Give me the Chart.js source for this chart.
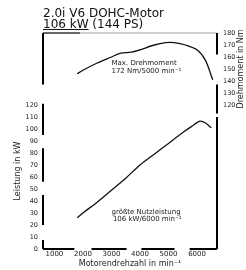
<!DOCTYPE html>
<html>
<head>
<meta charset="utf-8">
<script src="https://cdn.jsdelivr.net/npm/chart.js@4/dist/chart.umd.min.js"></script>
<style>
  body { margin: 0; background: #fff; }
  #wrap { position: relative; width: 246px; height: 270px; }
  .head { position: absolute; left: 43px; font-family: "DejaVu Sans", sans-serif; font-size: 12px; color: #111; white-space: nowrap; line-height: 12px; }
  #h1 { top: 7px; }
  #h2 { top: 18px; }
  #h2 u { text-underline-offset: 1px; }
</style>
</head>
<body>
<div id="wrap">
  <canvas id="motor-chart" width="246" height="270"></canvas>
  <div class="head" id="h1">2.0i V6 DOHC-Motor</div>
  <div class="head" id="h2"><u>106 kW</u> (144 PS)</div>
</div>
<script>
// values
var rpmTorque = [1800, 2000, 2500, 3000, 3300, 3700, 4000, 4500, 4900, 5200, 5600, 6000, 6300, 6550];
var torqueNm  = [146, 149, 155, 160, 163, 164, 166, 170, 172, 172, 170, 166, 157, 141];
var rpmPower  = [1800, 2000, 2500, 3000, 3500, 4000, 4500, 5000, 5500, 5800, 6100, 6300, 6500];
var powerKw   = [26, 30, 39, 49, 59, 70, 79, 88, 97, 102, 106.5, 105, 101];
var rpmTicks  = [1000, 2000, 3000, 4000, 5000, 6000];

// broken axis lines, in data units of each scale
var leftSegs   = [[137, 180], [95, 121], [56, 84], [20, 45], [0, 7.5]];
var rightSegs  = [[162, 180], [113, 137], [0, 110]];
var bottomSegs = [[600, 1700], [2300, 3530], [4050, 5210], [5740, 6700]];

function toPoints(xs, ys) {
    return xs.map(function(x, i) { return {x: x, y: ys[i]}; });
}

var decor = {
    id: 'decor',
    afterDraw: function(chart) {
        var ctx = chart.ctx;
        var x = chart.scales.x, yl = chart.scales.yPower, yr = chart.scales.yTorque;
        var a = chart.chartArea;
        ctx.save();
        ctx.strokeStyle = '#000';
        ctx.lineCap = 'butt';

        // top frame line (thin, partly heavier on the left)
        ctx.lineWidth = 0.7;
        ctx.strokeStyle = '#777';
        ctx.beginPath(); ctx.moveTo(a.left, a.top); ctx.lineTo(a.right, a.top); ctx.stroke();
        ctx.strokeStyle = '#000';
        ctx.lineWidth = 1.2;
        ctx.beginPath(); ctx.moveTo(a.left, a.top); ctx.lineTo(x.getPixelForValue(1900), a.top); ctx.stroke();

        ctx.lineWidth = 2;
        leftSegs.forEach(function(s) {
            ctx.beginPath();
            ctx.moveTo(a.left, yl.getPixelForValue(s[0]));
            ctx.lineTo(a.left, yl.getPixelForValue(s[1]));
            ctx.stroke();
        });
        rightSegs.forEach(function(s) {
            ctx.beginPath();
            ctx.moveTo(a.right, yr.getPixelForValue(s[0]));
            ctx.lineTo(a.right, yr.getPixelForValue(s[1]));
            ctx.stroke();
        });
        bottomSegs.forEach(function(s) {
            ctx.beginPath();
            ctx.moveTo(x.getPixelForValue(s[0]), a.bottom);
            ctx.lineTo(x.getPixelForValue(s[1]), a.bottom);
            ctx.stroke();
        });

        // annotations
        ctx.fillStyle = '#222';
        ctx.font = '7px "DejaVu Sans"';
        ctx.textAlign = 'left';
        ctx.textBaseline = 'middle';
        ctx.fillText('Max. Drehmoment', x.getPixelForValue(3000), yr.getPixelForValue(155));
        ctx.fillText('172 Nm/5000 min\u207B\u00B9', x.getPixelForValue(3000), yr.getPixelForValue(148));
        ctx.fillText('gr\u00F6\u00DFte Nutzleistung', x.getPixelForValue(3000), yl.getPixelForValue(31));
        ctx.fillText('106 kW/6000 min\u207B\u00B9', x.getPixelForValue(3050), yl.getPixelForValue(25));

        // vertical axis titles
        ctx.font = '8px "DejaVu Sans"';
        ctx.textAlign = 'center';
        ctx.save();
        ctx.translate(18, yl.getPixelForValue(65));
        ctx.rotate(-Math.PI / 2);
        ctx.fillText('Leistung in kW', 0, 0);
        ctx.restore();
        ctx.save();
        ctx.translate(241, yr.getPixelForValue(150));
        ctx.rotate(-Math.PI / 2);
        ctx.fillText('Drehmoment in Nm', 0, 0);
        ctx.restore();
        ctx.restore();
    }
};

var ctx = document.getElementById('motor-chart');
var chart = new Chart(ctx, {
    type: 'line',
    data: {
        datasets: [{
            label: 'Drehmoment',
            data: toPoints(rpmTorque, torqueNm),
            yAxisID: 'yTorque',
            borderColor: '#111',
            borderWidth: 1.3,
            pointRadius: 0,
            tension: 0.3
        }, {
            label: 'Leistung',
            data: toPoints(rpmPower, powerKw),
            yAxisID: 'yPower',
            borderColor: '#111',
            borderWidth: 1.3,
            pointRadius: 0,
            tension: 0.3
        }]
    },
    options: {
        responsive: false,
        animation: false,
        layout: { padding: { top: 33, left: 0, right: 0, bottom: 0 } },
        plugins: { legend: { display: false }, tooltip: { enabled: false } },
        scales: {
            x: {
                type: 'linear',
                min: 600,
                max: 6700,
                afterBuildTicks: function(s) { s.ticks = rpmTicks.map(function(v) { return {value: v}; }); },
                afterFit: function(s) { s.height = 21; },
                grid: { display: false, drawTicks: false },
                border: { display: false },
                ticks: { padding: 1, autoSkip: false, maxRotation: 0, color: '#222',
                         font: { family: 'DejaVu Sans', size: 7 },
                         callback: function(v) { return String(v); } },
                title: { display: true, text: 'Motorendrehzahl in min\u207B\u00B9', color: '#222',
                         font: { family: 'DejaVu Sans', size: 8 }, padding: { top: 0, bottom: 1 } }
            },
            yPower: {
                position: 'left',
                min: 0,
                max: 180,
                afterFit: function(s) { s.width = 43; },
                grid: { display: false, drawTicks: false },
                border: { display: false },
                ticks: { stepSize: 10, autoSkip: false, padding: 5, color: '#222',
                         font: { family: 'DejaVu Sans', size: 6.5 },
                         callback: function(v) { return v <= 120 ? v : null; } }
            },
            yTorque: {
                position: 'right',
                min: 0,
                max: 180,
                afterFit: function(s) { s.width = 29; },
                grid: { display: false, drawTicks: false },
                border: { display: false },
                ticks: { stepSize: 10, autoSkip: false, padding: 6, color: '#222',
                         font: { family: 'DejaVu Sans', size: 6.5 },
                         callback: function(v) { return v >= 120 ? v : null; } }
            }
        }
    },
    plugins: [decor]
});
</script>
</body>
</html>
